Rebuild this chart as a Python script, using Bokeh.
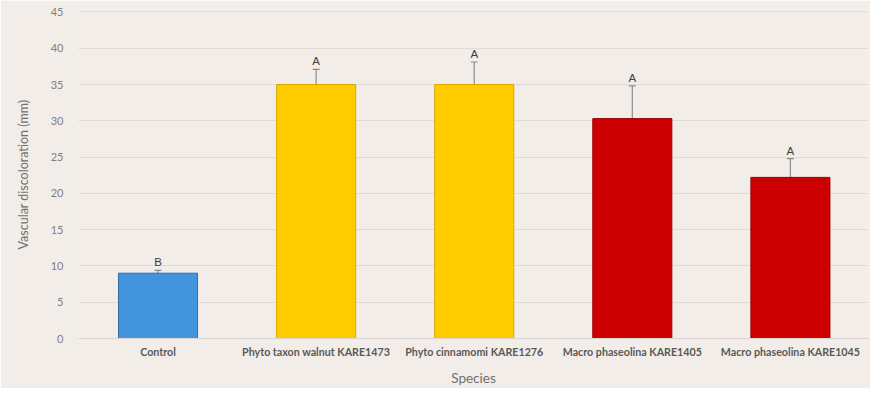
from bokeh.plotting import figure
from bokeh.models import Range1d, FixedTicker, ColumnDataSource, Whisker, TeeHead
from bokeh.embed import file_html
from bokeh.resources import INLINE
from bokeh.core.properties import value

categories = ["Control", "Phyto taxon walnut KARE1473", "Phyto cinnamomi KARE1276",
              "Macro phaseolina KARE1405", "Macro phaseolina KARE1045"]
means = [9.0, 35.0, 35.0, 30.3, 22.2]
err_upper = [9.4, 37.1, 38.1, 34.8, 24.8]
err_lower = [8.6, 32.9, 31.8, 25.7, 19.8]
letters = ["B", "A", "A", "A", "A"]
colors = ["#4294dc", "#ffcc00", "#ffcc00", "#cc0000", "#cc0000"]
edges = ["#2f6ea6", "#d9a800", "#d9a800", "#9a0000", "#9a0000"]
y_ticks = [0, 5, 10, 15, 20, 25, 30, 35, 40, 45]

xs = list(range(len(categories)))
src = ColumnDataSource(dict(x=xs, top=means, up=err_upper, lo=err_lower,
                            letter=letters, color=colors, edge=edges))

bg = "#f2ede8"
p = figure(width=870, height=388, output_backend="svg", toolbar_location=None,
           x_range=Range1d(-0.503, 4.494), y_range=Range1d(0, 45.2),
           min_border_left=78, min_border_right=2, min_border_top=10, min_border_bottom=49,
           background_fill_color=bg, border_fill_color=bg)
p.outline_line_color = None

p.vbar(x="x", top="top", width=0.5, bottom=0, source=src, fill_color="color",
       line_color="edge", line_width=1)

w = Whisker(base="x", upper="up", lower="lo", source=src, line_color="#8c8c8c", line_width=1.2,
            upper_head=TeeHead(size=7, line_color="#8c8c8c", line_width=1.2),
            lower_head=TeeHead(size=7, line_color="#8c8c8c", line_width=1.2))
p.add_layout(w)

p.text(x="x", y="up", text="letter", source=src, text_align="center", text_baseline="bottom",
       y_offset=-2, text_font=value("Liberation Sans"), text_font_size="11.5px",
       text_color="#404040")

p.xaxis.ticker = FixedTicker(ticks=xs)
p.xaxis.major_label_overrides = {i: c for i, c in enumerate(categories)}
p.xaxis.major_label_text_font = "Lato"
p.xaxis.major_label_text_font_style = "bold"
p.xaxis.major_label_text_font_size = "10.7px"
p.xaxis.major_label_text_color = "#595959"
p.xaxis.major_label_standoff = 0
p.xaxis.axis_line_color = "#d9d4cf"
p.xaxis.major_tick_line_color = None
p.xaxis.minor_tick_line_color = None
p.xaxis.axis_label = "Species"
p.xaxis.axis_label_text_font = "Lato"
p.xaxis.axis_label_text_font_style = "normal"
p.xaxis.axis_label_text_font_size = "13.5px"
p.xaxis.axis_label_text_color = "#707070"
p.xaxis.axis_label_standoff = 9

p.yaxis.ticker = FixedTicker(ticks=y_ticks)
p.yaxis.major_label_text_font = "Lato"
p.yaxis.major_label_text_font_size = "11px"
p.yaxis.major_label_text_color = "#808080"
p.yaxis.major_label_standoff = 9
p.yaxis.axis_line_color = None
p.yaxis.major_tick_line_color = None
p.yaxis.minor_tick_line_color = None
p.yaxis.axis_label = "Vascular discoloration (mm)"
p.yaxis.axis_label_text_font = "Lato"
p.yaxis.axis_label_text_font_style = "normal"
p.yaxis.axis_label_text_font_size = "12.5px"
p.yaxis.axis_label_text_color = "#707070"
p.yaxis.axis_label_standoff = 17

p.xgrid.grid_line_color = None
p.ygrid.grid_line_color = "#e0dbd6"
p.ygrid.grid_line_width = 1

open("out.html", "w").write(file_html(p, INLINE))
